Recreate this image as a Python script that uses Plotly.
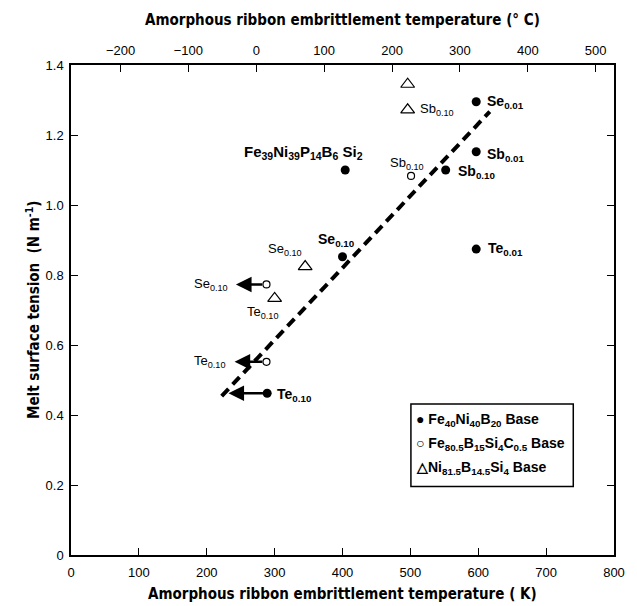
import plotly.graph_objects as go

# ---- data (K, N/m) ----
fe40_names = ["Se<sub>0.01</sub>", "Sb<sub>0.01</sub>", "Sb<sub>0.10</sub>", "Te<sub>0.01</sub>",
              "Se<sub>0.10</sub>", "Te<sub>0.10</sub>", "Fe<sub>39</sub>Ni<sub>39</sub>P<sub>14</sub>B<sub>6</sub> Si<sub>2</sub>"]
fe40_T = [597, 597, 552, 597, 400, 289, 404]
fe40_g = [1.295, 1.152, 1.100, 0.874, 0.852, 0.462, 1.100]

fe80_names = ["Sb<sub>0.10</sub>", "Se<sub>0.10</sub>", "Te<sub>0.10</sub>"]
fe80_T = [501, 288, 288]
fe80_g = [1.083, 0.773, 0.552]

ni_names = ["", "Sb<sub>0.10</sub>", "Se<sub>0.10</sub>", "Te<sub>0.10</sub>"]
ni_T = [496, 496, 345, 300]
ni_g = [1.345, 1.272, 0.824, 0.733]

# arrows: (start T, value, tip T)
arrow_start_T = [288, 288, 289]
arrow_g = [0.773, 0.552, 0.462]
arrow_tip_T = [243, 241, 232]

fit_T = [222, 617]
fit_g = [0.454, 1.267]

x_ticks = [0, 100, 200, 300, 400, 500, 600, 700, 800]
y_ticks = [0, 0.2, 0.4, 0.6, 0.8, 1.0, 1.2, 1.4]
y_ticktext = ["0", "0.2", "0.4", "0.6", "0.8", "1.0", "1.2", "1.4"]
c_ticks = [-200, -100, 0, 100, 200, 300, 400, 500]

legend_items = ["\u25CF Fe<sub>40</sub>Ni<sub>40</sub>B<sub>20</sub> Base",
                "\u25CB Fe<sub>80.5</sub>B<sub>15</sub>Si<sub>4</sub>C<sub>0.5</sub> Base",
                "\u25B3Ni<sub>81.5</sub>B<sub>14.5</sub>Si<sub>4</sub> Base"]

TXT = "Liberation Sans, Arial, sans-serif"
TITLE = "DejaVu Sans Condensed, Liberation Sans Narrow, sans-serif"

fig = go.Figure()

fig.add_trace(go.Scatter(x=fit_T, y=fit_g, mode="lines",
                         line=dict(color="black", width=4, dash="10px,6px"),
                         showlegend=False, hoverinfo="skip"))
fig.add_trace(go.Scatter(x=fe40_T, y=fe40_g, mode="markers",
                         marker=dict(symbol="circle", size=9, color="black"),
                         showlegend=False))
fig.add_trace(go.Scatter(x=fe80_T, y=fe80_g, mode="markers",
                         marker=dict(symbol="circle-open", size=7, color="black", line=dict(width=1.2)),
                         showlegend=False))
fig.add_trace(go.Scatter(x=ni_T, y=ni_g, mode="markers",
                         marker=dict(symbol="triangle-up-open", size=12, color="black", line=dict(width=1.2)),
                         showlegend=False))
# invisible trace on top axis to activate xaxis2
fig.add_trace(go.Scatter(x=[t - 273 for t in fit_T], y=fit_g, xaxis="x2", mode="markers",
                         marker=dict(opacity=0), showlegend=False, hoverinfo="skip"))

ann = []
fe40_off = [("left", 9, 0), ("left", 9, -3), ("left", 10, -2), ("left", 10, 0),
            ("center", -6, 17), ("left", 8, -2), ("center", -42, 18)]
fe40_size = [14, 14, 14, 14, 14, 14, 15]
for n, t, g, (xa, xs, ys), sz in zip(fe40_names, fe40_T, fe40_g, fe40_off, fe40_size):
    ann.append(dict(x=t, y=g, text=n, showarrow=False, xanchor=xa, yanchor="middle",
                    xshift=xs, yshift=ys, font=dict(family=TXT, size=sz, color="black", weight="bold")))
fe80_off = [("center", -4, 12), ("right", -36, 0), ("right", -39, 0)]
for n, t, g, (xa, xs, ys) in zip(fe80_names, fe80_T, fe80_g, fe80_off):
    ann.append(dict(x=t, y=g, text=n, showarrow=False, xanchor=xa, yanchor="middle",
                    xshift=xs, yshift=ys, font=dict(family=TXT, size=13, color="black")))
ni_off = [("left", 10, 0), ("left", 10, 0), ("center", -20, 17), ("center", -12, -14)]
for n, t, g, (xa, xs, ys) in zip(ni_names, ni_T, ni_g, ni_off):
    if n:
        ann.append(dict(x=t, y=g, text=n, showarrow=False, xanchor=xa, yanchor="middle",
                        xshift=xs, yshift=ys, font=dict(family=TXT, size=13, color="black")))
for s, g, tip in zip(arrow_start_T, arrow_g, arrow_tip_T):
    ann.append(dict(x=tip, y=g, ax=s - 4, ay=g, axref="x", ayref="y", xref="x", yref="y",
                    text="", showarrow=True, arrowhead=2, arrowsize=1.2, arrowwidth=2.6,
                    arrowcolor="black", standoff=0, startstandoff=0))

# axis titles
ann.append(dict(xref="paper", yref="paper", x=0.5, y=-0.079, yanchor="middle",
                text="Amorphous ribbon embrittlement temperature ( K)", showarrow=False,
                font=dict(family=TITLE, size=15, color="black", weight="bold")))
ann.append(dict(xref="paper", yref="paper", x=0.5, y=1.0, yshift=45, yanchor="middle",
                text="Amorphous ribbon embrittlement temperature (\u00B0 C)", showarrow=False,
                font=dict(family=TITLE, size=15, color="black", weight="bold")))
ann.append(dict(xref="paper", yref="paper", x=0, xshift=-38, y=0.5, textangle=-90,
                xanchor="center", yanchor="middle",
                text="Melt surface tension  (N m<sup>-1</sup>)", showarrow=False,
                font=dict(family=TITLE, size=15, color="black", weight="bold")))

# legend box
lx0, lx1, ly0, ly1 = 0.626, 0.925, 0.14, 0.308
for i, item in enumerate(legend_items):
    ann.append(dict(xref="paper", yref="paper", x=lx0, xshift=3, y=ly1, yshift=-16 - 24 * i,
                    xanchor="left", yanchor="middle", text=item, showarrow=False,
                    font=dict(family=TXT, size=14, color="black", weight="bold")))

fig.update_layout(
    width=637, height=606,
    margin=dict(l=71, r=13, t=65, b=51),
    plot_bgcolor="white", paper_bgcolor="white",
    annotations=ann,
    shapes=[dict(type="rect", xref="paper", yref="paper", x0=lx0, x1=lx1, y0=ly0, y1=ly1,
                 line=dict(color="black", width=1.5), fillcolor="white", layer="below")],
    xaxis=dict(range=[0, 800], tickvals=x_ticks, ticks="inside", ticklen=7, tickcolor="black",
               showline=True, linecolor="black", linewidth=1.5, showgrid=False, zeroline=False,
               ticklabelstandoff=5,
               tickfont=dict(family=TXT, size=13, color="black"), mirror=False),
    xaxis2=dict(range=[-273, 527], tickvals=c_ticks, overlaying="x", side="top",
                ticks="inside", ticklen=7, tickcolor="black", showline=True, linecolor="black",
                linewidth=1.5, showgrid=False, zeroline=False, ticklabelstandoff=3,
                tickfont=dict(family=TXT, size=13, color="black")),
    yaxis=dict(range=[0, 1.4], tickvals=y_ticks, ticktext=y_ticktext, ticks="inside", ticklen=7,
               tickcolor="black", showline=True, linecolor="black", linewidth=1.5,
               mirror="ticks", showgrid=False, zeroline=False, ticklabelstandoff=3,
               tickfont=dict(family=TXT, size=13, color="black")),
)

fig.write_html("out.html")
